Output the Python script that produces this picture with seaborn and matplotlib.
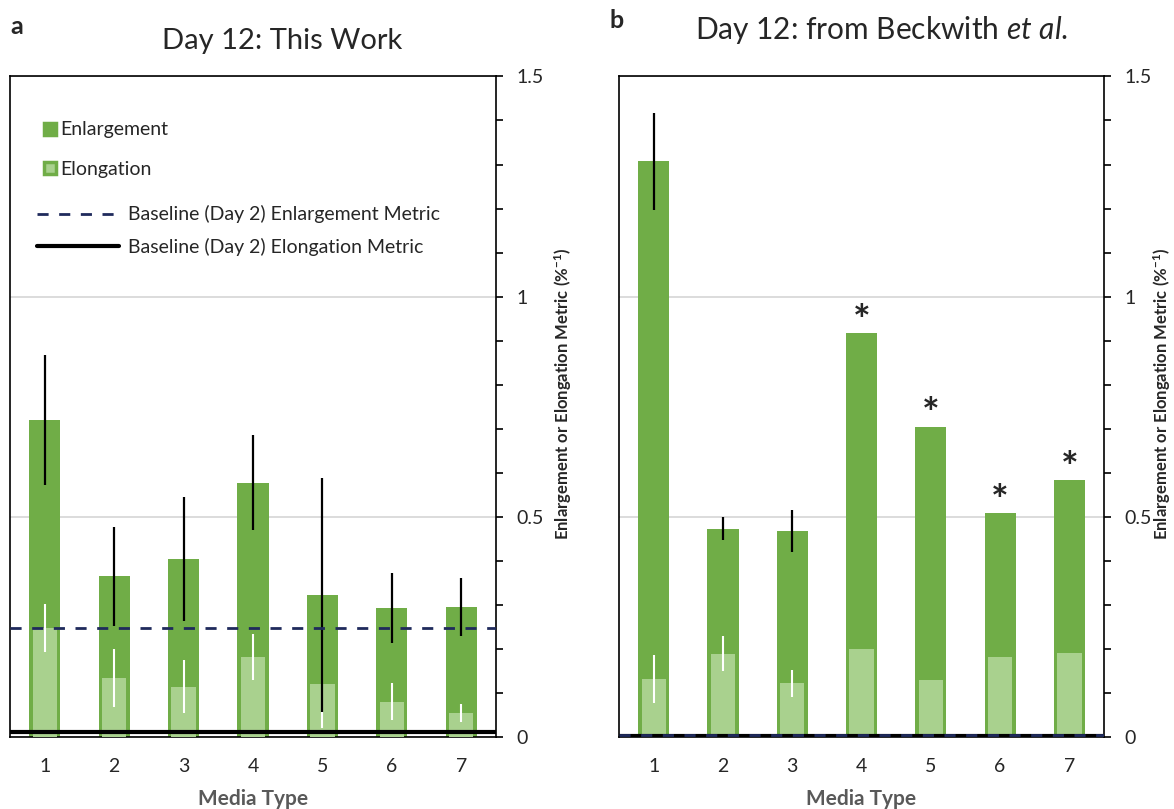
import numpy as np
import pandas as pd
import matplotlib
matplotlib.use("Agg")
import matplotlib.pyplot as plt
from matplotlib.lines import Line2D
from matplotlib.ticker import MultipleLocator, FuncFormatter
import seaborn as sns

# ---- data -------------------------------------------------------------
media = ["1", "2", "3", "4", "5", "6", "7"]

# Panel a: Day 12, this work
a_enlargement = [0.720, 0.365, 0.405, 0.577, 0.323, 0.293, 0.296]
a_enlargement_err = [0.148, 0.113, 0.141, 0.108, 0.266, 0.080, 0.066]
a_elongation = [0.248, 0.134, 0.114, 0.182, 0.120, 0.080, 0.054]
a_elongation_err = [0.055, 0.066, 0.060, 0.053, 0.100, 0.042, 0.020]
a_baseline_enlargement = 0.248
a_baseline_elongation = 0.011

# Panel b: Day 12, from Beckwith et al.
b_enlargement = [1.307, 0.473, 0.468, 0.918, 0.705, 0.509, 0.584]
b_enlargement_err = [0.110, 0.026, 0.048, np.nan, np.nan, np.nan, np.nan]
b_elongation = [0.132, 0.189, 0.122, 0.200, 0.130, 0.182, 0.190]
b_elongation_err = [0.055, 0.040, 0.031, np.nan, np.nan, np.nan, np.nan]
b_significant = [False, False, False, True, True, True, True]
b_baseline_enlargement = 0.005
b_baseline_elongation = 0.003

# ---- style ------------------------------------------------------------
GREEN = "#70AD47"
LIGHT = "#A9D18E"
NAVY = "#1F2A5C"
GRID = "#D9D9D9"
AXIS_GREY = "#595959"

sns.set_theme(style="white")
plt.rcParams["font.family"] = ["Lato", "DejaVu Sans"]
plt.rcParams["mathtext.fontset"] = "custom"
plt.rcParams["mathtext.rm"] = "Lato"
plt.rcParams["mathtext.it"] = "Lato:italic"
plt.rcParams["mathtext.bf"] = "Lato:bold"

YLABEL = r"Enlargement or Elongation Metric (%$^{\mathbf{-1}}$)"


def draw_panel(ax, enl, enl_err, elo, elo_err, base_enl, base_elo):
    df = pd.DataFrame({"Media Type": media,
                       "Enlargement": enl,
                       "Elongation": elo})
    sns.barplot(data=df, x="Media Type", y="Enlargement", color=GREEN,
                saturation=1, width=0.45, errorbar=None, linewidth=0,
                ax=ax, zorder=2)
    sns.barplot(data=df, x="Media Type", y="Elongation", color=LIGHT,
                saturation=1, width=0.35, errorbar=None, linewidth=0,
                ax=ax, zorder=3)

    x = np.arange(len(media))
    enl = np.asarray(enl, float)
    elo = np.asarray(elo, float)
    enl_err = np.asarray(enl_err, float)
    elo_err = np.asarray(elo_err, float)
    m = ~np.isnan(elo_err)
    ax.errorbar(x[m], elo[m], yerr=elo_err[m], fmt="none", ecolor="white",
                elinewidth=1.5, capsize=0, zorder=4)
    m = ~np.isnan(enl_err)
    ax.errorbar(x[m], enl[m], yerr=enl_err[m], fmt="none", ecolor="black",
                elinewidth=1.6, capsize=0, zorder=5)

    ax.axhline(base_elo, color="black", lw=3, zorder=6)
    ax.axhline(base_enl, color=NAVY, lw=2, ls=(0, (4, 3.8)), zorder=7)

    ax.set_xlim(-0.5, 6.5)
    ax.set_ylim(0, 1.5)

    ax.yaxis.tick_right()
    ax.yaxis.set_label_position("right")
    ax.yaxis.set_major_locator(MultipleLocator(0.5))
    ax.yaxis.set_minor_locator(MultipleLocator(0.1))
    ax.yaxis.set_major_formatter(FuncFormatter(lambda v, p: f"{v:g}"))
    ax.tick_params(axis="y", which="both", direction="out", length=5,
                   width=1.2, color="black", right=True, left=False,
                   labelsize=14, pad=10)
    ax.tick_params(axis="x", length=0, labelsize=14, pad=15)
    ax.grid(axis="y", which="major", color=GRID, lw=1.3, zorder=0)
    ax.set_axisbelow(True)
    for s in ax.spines.values():
        s.set_visible(True)
        s.set_color("black")
        s.set_linewidth(1.2)

    ax.set_xlabel("Media Type", color=AXIS_GREY, fontweight="bold",
                  fontsize=15, labelpad=10)
    ax.set_ylabel(YLABEL, fontweight="bold", fontsize=12)


fig = plt.figure(figsize=(11.74, 8.09), dpi=100)
ax_a = fig.add_axes([0.0085, 0.089, 0.414, 0.8165])
ax_b = fig.add_axes([0.5273, 0.089, 0.4131, 0.8165])

draw_panel(ax_a, a_enlargement, a_enlargement_err, a_elongation,
           a_elongation_err, a_baseline_enlargement, a_baseline_elongation)
draw_panel(ax_b, b_enlargement, b_enlargement_err, b_elongation,
           b_elongation_err, b_baseline_enlargement, b_baseline_elongation)
ax_a.yaxis.set_label_coords(1.115, 0.52)
ax_b.yaxis.set_label_coords(1.097, 0.52)

# significance markers
for i, (v, sig) in enumerate(zip(b_enlargement, b_significant)):
    if sig:
        ax_b.text(i, v - 0.004, "*", ha="center", va="baseline",
                  fontsize=30, fontweight="bold", zorder=8)

# legends
square_handles = [
    Line2D([], [], ls="none", marker="s", ms=9, mfc=GREEN, mec=GREEN, mew=2.5),
    Line2D([], [], ls="none", marker="s", ms=9, mfc=LIGHT, mec=GREEN, mew=2.5),
]
leg1 = ax_a.legend(square_handles, ["Enlargement", "Elongation"],
                   loc="upper left", bbox_to_anchor=(0.066, 0.932),
                   frameon=False, fontsize=14, handlelength=0.8,
                   handletextpad=0.15, labelspacing=1.15, borderpad=0,
                   borderaxespad=0)
ax_a.add_artist(leg1)
line_handles = [
    Line2D([], [], color=NAVY, lw=2, ls=(0, (4, 3.8))),
    Line2D([], [], color="black", lw=3),
]
ax_a.legend(line_handles, ["Baseline (Day 2) Enlargement Metric",
                           "Baseline (Day 2) Elongation Metric"],
            loc="upper left", bbox_to_anchor=(0.0556, 0.805),
            frameon=False, fontsize=14, handlelength=4.2,
            handletextpad=0.5, labelspacing=0.75, borderpad=0,
            borderaxespad=0)

# titles and panel letters
fig.text(282 / 1174, 1 - 41 / 809, "Day 12: This Work",
         ha="center", va="center", fontsize=21)
fig.text(882 / 1174, 1 - 30 / 809, r"Day 12: from Beckwith $\mathit{et\ al.}$",
         ha="center", va="center", fontsize=21.5)
fig.text(17 / 1174, 1 - 27 / 809, "a", ha="center", va="center",
         fontsize=18, fontweight="bold")
fig.text(617 / 1174, 1 - 21 / 809, "b", ha="center", va="center",
         fontsize=18, fontweight="bold")

fig.savefig("out.png", dpi=100)
